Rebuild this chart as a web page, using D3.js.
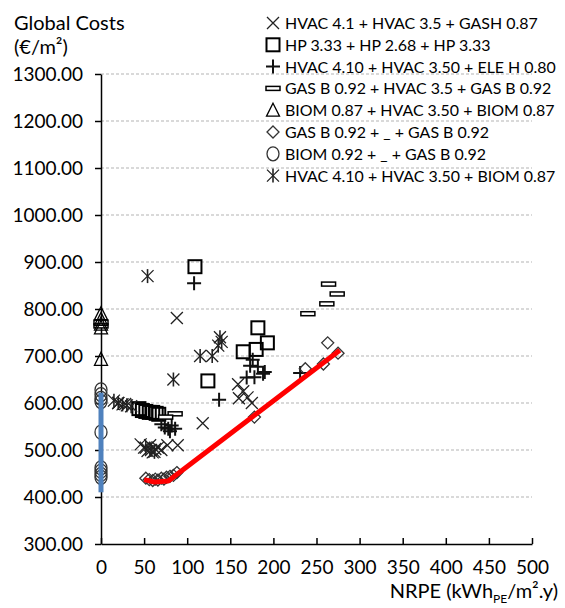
<!DOCTYPE html>
<html>
<head>
<meta charset="utf-8">
<script src="https://cdn.jsdelivr.net/npm/d3@7"></script>
<style>
  body { margin: 0; background: #fff; }
  text { font-family: Lato, "Open Sans", sans-serif; fill: #000; }
</style>
</head>
<body>
<div id="chart"></div>
<script>
/* ---- data ---- */
const xTicks = [0, 50, 100, 150, 200, 250, 300, 350, 400, 450, 500];
const yTicks = [300, 400, 500, 600, 700, 800, 900, 1000, 1100, 1200, 1300];

const seriesNames = [
  "HVAC 4.1 + HVAC 3.5 + GASH 0.87",
  "HP 3.33 + HP 2.68 + HP 3.33",
  "HVAC 4.10 + HVAC 3.50 + ELE H 0.80",
  "GAS B 0.92 + HVAC 3.5 + GAS B 0.92",
  "BIOM 0.87 + HVAC 3.50 + BIOM 0.87",
  "GAS B 0.92 + _ + GAS B 0.92",
  "BIOM 0.92 + _ + GAS B 0.92",
  "HVAC 4.10 + HVAC 3.50 + BIOM 0.87"
];
const seriesMarkers = ["x", "square", "plus", "dash", "triangle", "diamond", "circle", "star"];

const hvacGash = [[88,781],[159,640],[165,625],[170,612],[160,610],[175,600],[118,557],
  [46,512],[50,505],[54,498],[57,510],[60,495],[63,502],[66,505],[70,500],[77,510],[89,510],
  [20,600],[28,598]];
const hpHp = [[109,890],[124,647],[182,760],[193,728],[165,709],[180,714],
  [44,588],[48,584],[52,582],[56,580],[60,580],[64,578],[67,576]];
const hvacEle = [[108,855],[137,607],[176,692],[182,677],[188,662],[169,654],[178,655],
  [231,664],[173,679],[190,666],[70,555],[74,548],[78,545],[82,552],[86,545],[80,540]];
const gasHvacGas = [[240,790],[262,811],[264,853],[274,832],[86,577],[75,570],[0,772],[0,764]];
const biomHvacBiom = [[0,790],[0,778],[0,768],[0,760],[0,693]];
const gasGas = [[52,440],[56,437],[60,435],[63,438],[66,436],[70,440],[73,438],[76,442],
  [80,444],[84,446],[88,452],[178,570],[237,673],[258,683],[263,728],[275,706]];
const biomGas = [[0,628],[0,618],[0,610],[0,603],[0,538],[0,462],[0,455],[0,448],[0,442]];
const hvacBiom = [[54,870],[138,740],[140,730],[136,722],[115,700],[129,700],[84,650],
  [15,605],[20,600],[25,597],[30,595],[35,593],[52,505],[58,500],[62,496]];

const seriesData = [hvacGash, hpHp, hvacEle, gasHvacGas, biomHvacBiom, gasGas, biomGas, hvacBiom];

const blueLine = [[0,622],[0,410]];
const redLine = [[50,437],[62,432],[78,434],[277,712]];

/* ---- svg ---- */
const W = 565, H = 608;
const svg = d3.select("#chart").append("svg")
  .attr("width", W).attr("height", H);

const x = d3.scaleLinear().domain([0, 500]).range([101, 532]);
const y = d3.scaleLinear().domain([300, 1300]).range([544, 74]);

// gridlines
svg.append("g").selectAll("line")
  .data(yTicks.filter(d => d > 300))
  .enter().append("line")
  .attr("x1", x(0)).attr("x2", x(500))
  .attr("y1", d => y(d)).attr("y2", d => y(d))
  .attr("stroke", "#b3b3b3").attr("stroke-width", 1)
  .attr("stroke-dasharray", "3,2");

// axes
const gy = svg.append("g").attr("transform", `translate(${x(0)},0)`)
  .call(d3.axisLeft(y).tickValues(yTicks).tickFormat(d3.format(".2f"))
    .tickSizeInner(6).tickSizeOuter(0).tickPadding(12));
gy.selectAll("text").style("font-size", "19px");

const gx = svg.append("g").attr("transform", `translate(0,${y(300)})`)
  .call(d3.axisBottom(x).tickValues(xTicks).tickFormat(d3.format("d"))
    .tickSizeInner(-6).tickSizeOuter(0).tickPadding(17));
gx.selectAll("text").style("font-size", "19px");

svg.selectAll(".domain, .tick line").attr("stroke", "#000").attr("stroke-width", 1.5);

// titles
svg.append("text").attr("x", 14).attr("y", 30).style("font-size", "20px").text("Global Costs");
svg.append("text").attr("x", 14).attr("y", 54).style("font-size", "20px")
  .text("(€/m²)");

const xt = svg.append("text").attr("x", 558).attr("y", 598)
  .attr("text-anchor", "end").style("font-size", "20px");
xt.append("tspan").text("NRPE (kWh");
xt.append("tspan").attr("dy", 5).style("font-size", "12px").text("PE");
xt.append("tspan").attr("dy", -5).text("/m².y)");

/* ---- markers ---- */
function drawMarker(g, type) {
  const k = 6;
  if (type === "x" || type === "star") {
    g.append("path").attr("d", `M${-k},${-k}L${k},${k}M${-k},${k}L${k},${-k}`)
      .attr("stroke", "#222").attr("stroke-width", 1.3);
    if (type === "star")
      g.append("path").attr("d", `M0,${-k - 1}L0,${k + 1}`)
        .attr("stroke", "#222").attr("stroke-width", 1.6);
  } else if (type === "square") {
    g.append("rect").attr("x", -6.5).attr("y", -6.5).attr("width", 13).attr("height", 13)
      .attr("stroke", "#000").attr("fill", "none").attr("stroke-width", 2);
  } else if (type === "plus") {
    g.append("path").attr("d", "M-7,0L7,0M0,-7L0,7")
      .attr("stroke", "#111").attr("stroke-width", 2);
  } else if (type === "dash") {
    g.append("rect").attr("x", -7).attr("y", -2).attr("width", 14).attr("height", 4)
      .attr("stroke", "#000").attr("fill", "#fff").attr("stroke-width", 1.5);
  } else if (type === "triangle") {
    g.append("path").attr("d", "M0,-7L6.5,6L-6.5,6Z")
      .attr("stroke", "#000").attr("fill", "none").attr("stroke-width", 1.3);
  } else if (type === "diamond") {
    g.append("path").attr("d", "M0,-6L6,0L0,6L-6,0Z")
      .attr("stroke", "#333").attr("fill", "none").attr("stroke-width", 1.3);
  } else if (type === "circle") {
    g.append("ellipse").attr("rx", 6).attr("ry", 7)
      .attr("stroke", "#333").attr("fill", "none").attr("stroke-width", 1.3);
  }
}

// points
seriesData.forEach((pts, i) => {
  svg.append("g").selectAll("g")
    .data(pts).enter().append("g")
    .attr("transform", d => `translate(${x(d[0])},${y(d[1])})`)
    .each(function () { drawMarker(d3.select(this), seriesMarkers[i]); });
});

// fronts
const line = d3.line().x(d => x(d[0])).y(d => y(d[1]));
svg.append("path").datum(blueLine).attr("d", line)
  .attr("stroke", "#4f81bd").attr("stroke-width", 5).attr("fill", "none");
svg.append("path").datum(redLine).attr("d", line)
  .attr("stroke", "#ff0000").attr("stroke-width", 5).attr("fill", "none")
  .attr("stroke-linejoin", "round");

/* ---- legend ---- */
const legend = svg.append("g");
const legendTexts = [];
seriesNames.forEach((name, i) => {
  const cy = 23 + i * 21.8;
  const m = legend.append("g").attr("transform", `translate(273,${cy})`);
  drawMarker(m, seriesMarkers[i]);
  legendTexts.push(legend.append("text").attr("x", 285).attr("y", cy + 6)
    .style("font-size", "17px").text(name));
});
// fit longest entry to the space the reference uses (ends near x = 557)
const widest = d3.max(legendTexts, t => t.node().getComputedTextLength());
const fs = Math.min(17, 17 * 271 / widest);
legendTexts.forEach(t => t.style("font-size", fs + "px"));
</script>
</body>
</html>
